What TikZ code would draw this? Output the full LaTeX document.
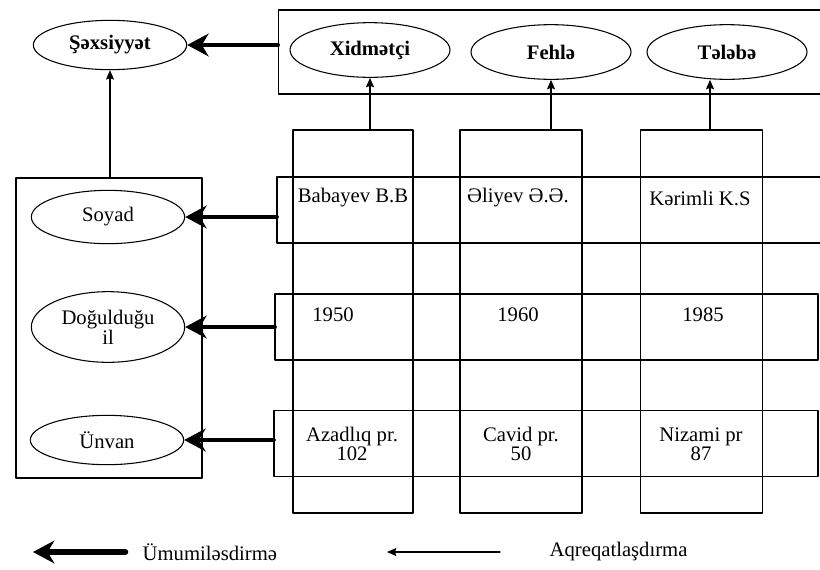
\documentclass[tikz,border=0pt]{standalone}
\usepackage{fontspec}
\setmainfont{Liberation Serif}
\usetikzlibrary{shapes.geometric,arrows.meta}

\begin{document}
\begin{tikzpicture}[x=0.75pt,y=-0.75pt,line join=round,line cap=round,
    font=\fontsize{15.5}{17}\selectfont,
    oval/.style={ellipse,draw,line width=0.8pt,inner sep=0pt,
                 minimum width=115pt,minimum height=40pt},
    sinif/.style={oval,font=\fontsize{15.5}{17}\selectfont\bfseries},
    qutu/.style={draw,line width=0.8pt,inner sep=0pt},
    kolon/.style={qutu,minimum height=287.25pt},
    setir/.style={qutu,minimum height=49.5pt},
    umumi/.style={line width=3.6pt,-{Stealth[length=16pt,width=17pt,inset=5pt]}},
    aqreqat/.style={line width=0.8pt,-{Stealth[length=7pt,width=6pt,inset=1pt]}}]

  \useasboundingbox (0,0) rectangle (820,569);

  % ---- sinif qutulari --------------------------------------------------------
  \node[qutu,minimum width=410pt,minimum height=63pt] (ust) at (551.5,52) {};
  \node[qutu,minimum width=139.5pt,minimum height=225pt] (sol) at (109,328) {};

  % ---- obyektler: sutunlar ve setirler --------------------------------------
  \node[kolon,minimum width=90pt]   (k1) at (353,321.5) {};
  \node[kolon,minimum width=91.5pt] (k2) at (521,321.5) {};
  \node[kolon,minimum width=92pt]   (k3) at (701.5,321.5) {};

  \node[setir,minimum width=411pt]    (s1) at (551,210) {};
  \node[setir,minimum width=407.25pt] (s2) at (546.5,327) {};
  \node[setir,minimum width=408pt,minimum height=50pt] (s3) at (546,443.5) {};

  % ---- ellipsler --------------------------------------------------------------
  \node[sinif,minimum height=37pt] (sex) at (110,45) {Şəxsiyyət};
  \node[sinif,minimum width=120pt,minimum height=41pt] (xid) at (370,50) {Xidmətçi};
  \node[sinif,minimum width=120pt,minimum height=41pt] (feh) at (551,52) {Fehlə};
  \node[sinif,minimum width=120pt,minimum height=41pt] (tel) at (727,52) {Tələbə};

  \node[oval] (soy) at (108,217) {Soyad};
  \node[oval,minimum height=53pt,align=center] (dog) at (108,327)
        {Doğulduğu\\[-2pt]il};
  \node[oval,minimum height=37pt] (unv) at (107,440) {Ünvan};

  % ---- xanalardaki qiymetler ------------------------------------------------
  \node (b1) at (353,198) {Babayev B.B};
  \node (b2) at (518,198) {Əliyev Ə.Ə.};
  \node (b3) at (700,198) {Kərimli K.S};

  \node (t1) at (333,315) {1950};
  \node (t2) at (518,315) {1960};
  \node (t3) at (703,315) {1985};

  \node[align=center] (u1) at (352,444) {Azadlıq pr.\\[-3pt]102};
  \node[align=center] (u2) at (521,444) {Cavid pr.\\[-3pt]50};
  \node[align=center] (u3) at (701,444) {Nizami pr\\[-3pt]87};

  % ---- umumilesdirme ----------------------------------------------------------
  \draw[umumi] (ust.west |- sex.east) -- (sex.east);
  \draw[umumi] (s1.west |- soy.east) -- (soy.east);
  \draw[umumi] (s2.west |- dog.east) -- (dog.east);
  \draw[umumi] (s3.west |- unv.east) -- (unv.east);

  % ---- aqreqatlasdirma --------------------------------------------------------
  \draw[aqreqat] (sex.south |- sol.north) -- (sex.south);
  \draw[aqreqat] (k1.north -| xid.south) -- (xid.south);
  \draw[aqreqat] (k2.north -| feh.south) -- (feh.south);
  \draw[aqreqat] (k3.north -| tel.south) ++(-17,0) -- ([xshift=-12.75pt]tel.south);

  % ---- sertli isareler --------------------------------------------------------
  \coordinate (l1) at (125,552);
  \coordinate (l2) at (33,552);
  \coordinate (l3) at (500,552);
  \coordinate (l4) at (387,552);
  \draw[umumi,line width=5pt] (l1) -- (l2);
  \node[anchor=west] (lu) at (138,552) {Ümumiləsdirmə};
  \draw[aqreqat] (l3) -- (l4);
  \node[anchor=west] (la) at (545,552) {Aqreqatlaşdırma};

\end{tikzpicture}
\end{document}
